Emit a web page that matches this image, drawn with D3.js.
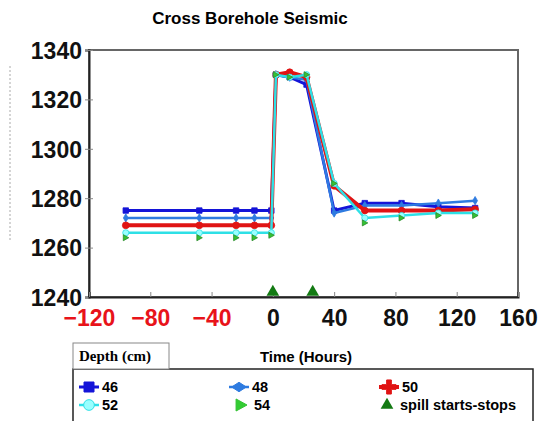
<!DOCTYPE html>
<html>
<head>
<meta charset="utf-8">
<script src="https://cdn.jsdelivr.net/npm/d3@7"></script>
<style>
  body { margin: 0; background: #fff; }
  text { font-family: "Liberation Sans", Arial, sans-serif; }
</style>
</head>
<body>
<script>
'use strict';

// hours of each measurement
const hours = [-96, -48, -24, -12, -1, 2, 11, 22, 40, 60, 84, 108, 132];

// velocity for each depth (cm)
const d46 = [1275, 1275, 1275, 1275, 1275, 1330, 1329, 1326, 1275, 1278, 1278, 1276.5, 1276];
const d48 = [1272, 1272, 1272, 1272, 1272, 1330, 1329, 1328, 1274, 1277, 1277, 1278, 1279];
const d50 = [1269, 1269, 1269, 1269, 1269, 1330, 1331, 1329, 1285, 1275, 1275, 1275, 1275.5];
const d52 = [1266, 1266, 1266, 1266, 1266, 1330, 1329, 1330, 1286, 1272, 1273, 1274, 1274];
const d54 = [1264, 1264, 1264, 1264, 1265, 1330, 1329, 1330, 1286, 1270, 1272, 1273, 1273];

// spill start and stop
const spillHours = [0, 26];

const xTicks = [-120, -80, -40, 0, 40, 80, 120, 160];
const yTicks = [1240, 1260, 1280, 1300, 1320, 1340];

(function() {

  const width = 542, height = 421;
  const plotLeft = 89, plotRight = 518, plotTop = 50, plotBottom = 297;

  let svg = d3.select('body').append('svg')
    .attr('width', width)
    .attr('height', height);

  let x = d3.scaleLinear().domain([-120, 160]).range([plotLeft, plotRight]);
  let y = d3.scaleLinear().domain([1240, 1340]).range([plotBottom, plotTop]);

  // title
  svg.append('text')
    .attr('x', 250).attr('y', 24)
    .attr('text-anchor', 'middle')
    .style('font-size', '17px').style('font-weight', 'bold')
    .text('Cross Borehole Seismic');

  // faint leftover of the y title
  svg.append('line')
    .attr('x1', 10).attr('x2', 10).attr('y1', 66).attr('y2', 240)
    .attr('stroke', '#aaa').attr('stroke-width', 1)
    .attr('stroke-dasharray', '2,2');

  // plot frame
  svg.append('rect')
    .attr('x', plotLeft).attr('y', plotTop)
    .attr('width', plotRight - plotLeft).attr('height', plotBottom - plotTop)
    .attr('fill', '#fff').attr('stroke', '#666').attr('stroke-width', 2);

  // y axis
  let yAxis = svg.append('g')
    .attr('transform', 'translate(' + plotLeft + ',0)')
    .call(d3.axisLeft(y).tickValues(yTicks).tickFormat(d3.format('d')).tickSize(4).tickPadding(3));
  yAxis.select('.domain').attr('stroke', '#222').attr('stroke-width', 2);
  yAxis.selectAll('.tick line').attr('stroke', '#888').attr('x2', -4).attr('x1', 4);
  yAxis.selectAll('.tick text')
    .style('font-size', '23px').style('font-weight', 'bold')
    .attr('fill', '#111').attr('dy', '0.36em');

  // x axis
  let xAxis = svg.append('g')
    .attr('transform', 'translate(0,' + plotBottom + ')')
    .call(d3.axisBottom(x).tickValues(xTicks).tickSize(-5).tickPadding(13));
  xAxis.select('.domain').attr('stroke', '#222').attr('stroke-width', 2);
  xAxis.selectAll('.tick line').attr('stroke', '#888');
  xAxis.selectAll('.tick text')
    .style('font-size', '23px').style('font-weight', 'bold')
    .attr('fill', d => d < 0 ? '#e8131a' : '#111');

  // series
  let series = [
    { name: '46', values: d46, color: '#1414d8', width: 3, shape: d3.symbolSquare, size: 30 },
    { name: '48', values: d48, color: '#2e7be0', width: 2.5, shape: d3.symbolDiamond, size: 20 },
    { name: '50', values: d50, color: '#e01414', width: 4, shape: d3.symbolCircle, size: 36 },
    { name: '52', values: d52, color: '#2ee0e6', width: 2.5, shape: d3.symbolCircle, size: 30 },
    { name: '54', values: d54, color: '#33c233', width: 0, shape: null, size: 30 }
  ];

  let line = d3.line()
    .x(d => x(d[0]))
    .y(d => y(d[1]));

  // right pointing triangle for the 54 cm markers
  let triRight = {
    draw: function(ctx, size) {
      let s = Math.sqrt(size);
      ctx.moveTo(s * 0.55, 0);
      ctx.lineTo(-s * 0.45, -s * 0.55);
      ctx.lineTo(-s * 0.45, s * 0.55);
      ctx.closePath();
    }
  };

  // flat diamond for the 48 cm legend entry
  let flatDiamond = {
    draw: function(ctx, size) {
      let s = Math.sqrt(size);
      ctx.moveTo(-s * 0.7, 0);
      ctx.lineTo(0, -s * 0.45);
      ctx.lineTo(s * 0.7, 0);
      ctx.lineTo(0, s * 0.45);
      ctx.closePath();
    }
  };

  series.forEach(s => {
    let pts = hours.map((h, i) => [h, s.values[i]]);
    if (s.width > 0) {
      svg.append('path')
        .datum(pts)
        .attr('fill', 'none')
        .attr('stroke', s.color)
        .attr('stroke-width', s.width)
        .attr('stroke-linejoin', 'round')
        .attr('d', line);
    }
    svg.append('g').selectAll('path')
      .data(pts).enter()
      .append('path')
        .attr('transform', d => 'translate(' + x(d[0]) + ',' + y(d[1]) + ')')
        .attr('d', d3.symbol().type(s.shape || triRight).size(s.size))
        .attr('fill', s.name === '52' ? '#9ff' : s.color)
        .attr('stroke', s.name === '54' ? '#2a8a2a' : s.color)
        .attr('stroke-width', 0.8);
  });

  // spill markers on the axis
  svg.append('g').selectAll('path')
    .data(spillHours).enter()
    .append('path')
      .attr('transform', d => 'translate(' + x(d) + ',' + (plotBottom - 5) + ')')
      .attr('d', d3.symbol().type(d3.symbolTriangle).size(70))
      .attr('fill', '#137a13');

  // x title
  svg.append('text')
    .attr('x', 306).attr('y', 362)
    .attr('text-anchor', 'middle')
    .style('font-size', '15px').style('font-weight', 'bold')
    .text('Time (Hours)');

  // legend box with tab
  svg.append('rect')
    .attr('x', 73).attr('y', 369)
    .attr('width', 460).attr('height', 60)
    .attr('fill', '#fff').attr('stroke', '#222').attr('stroke-width', 1.5);

  svg.append('rect')
    .attr('x', 73).attr('y', 343)
    .attr('width', 96).attr('height', 26)
    .attr('fill', '#fff').attr('stroke', '#888').attr('stroke-width', 1);

  svg.append('text')
    .attr('x', 79).attr('y', 361)
    .style('font-family', '"Liberation Serif", "Times New Roman", serif')
    .style('font-size', '15px').style('font-weight', 'bold')
    .text('Depth (cm)');

  let legendItems = [
    { label: '46', s: series[0], cx: 89, cy: 387, shape: d3.symbolSquare, size: 100 },
    { label: '48', s: series[1], cx: 239, cy: 387, shape: flatDiamond, size: 110 },
    { label: '50', s: series[2], cx: 389, cy: 387, shape: d3.symbolCross, size: 110 },
    { label: '52', s: series[3], cx: 89, cy: 405, shape: d3.symbolCircle, size: 90 },
    { label: '54', s: series[4], cx: 241, cy: 405, shape: triRight, size: 120 },
    { label: 'spill starts-stops', s: null, cx: 387, cy: 405, shape: d3.symbolTriangle, size: 70 }
  ];

  legendItems.forEach(it => {
    let g = svg.append('g');
    if (it.s && it.s.width > 0) {
      g.append('line')
        .attr('x1', it.cx - 10).attr('x2', it.cx + 10)
        .attr('y1', it.cy).attr('y2', it.cy)
        .attr('stroke', it.s.color).attr('stroke-width', it.s.width);
    }
    let fill = '#137a13';
    if (it.s) {
      fill = it.s.name === '52' ? '#9ff' : (it.s.name === '54' ? '#33cc33' : it.s.color);
    }
    g.append('path')
      .attr('transform', 'translate(' + it.cx + ',' + it.cy + ')')
      .attr('d', d3.symbol().type(it.shape).size(it.size))
      .attr('fill', fill)
      .attr('stroke', it.s ? it.s.color : 'none')
      .attr('stroke-width', 1);
    g.append('text')
      .attr('x', it.cx + 13).attr('y', it.cy + 5)
      .style('font-size', '14.5px').style('font-weight', 'bold')
      .text(it.label);
  });
})();
</script>
</body>
</html>
